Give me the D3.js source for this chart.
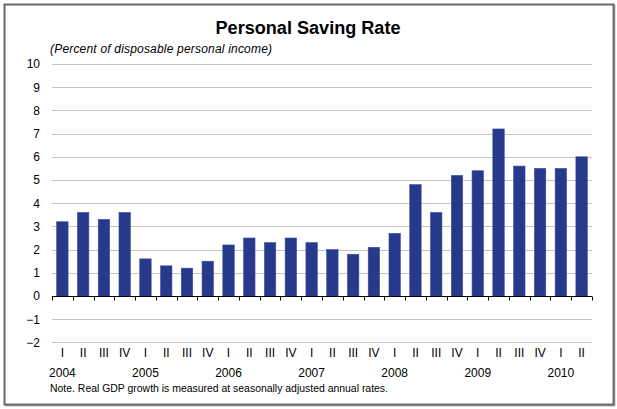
<!DOCTYPE html>
<html lang="en">
<head>
  <meta charset="UTF-8" />
  <title>Personal Saving Rate</title>
  <script src="https://cdn.jsdelivr.net/npm/d3@7"></script>
  <style>
    html, body { margin: 0; padding: 0; background: #fff; overflow: hidden; }
    svg { display: block; font-family: "Liberation Sans", Arial, sans-serif; }
  </style>
</head>
<body>
  <script>
    // Data: quarterly personal saving rate, 2004 Q1 .. 2010 Q2
    const years = ["2004", "2005", "2006", "2007", "2008", "2009", "2010"];
    const quarterNames = ["I", "II", "III", "IV"];
    const values = [
      3.2, 3.6, 3.3, 3.6,   // 2004
      1.6, 1.3, 1.2, 1.5,   // 2005
      2.2, 2.5, 2.3, 2.5,   // 2006
      2.3, 2.0, 1.8, 2.1,   // 2007
      2.7, 4.8, 3.6, 5.2,   // 2008
      5.4, 7.2, 5.6, 5.5,   // 2009
      5.5, 6.0              // 2010
    ];
    const yTicks = [-2, -1, 0, 1, 2, 3, 4, 5, 6, 7, 8, 9, 10];

    const width = 617, height = 409;
    const plot = { left: 52, right: 592, top: 64, bottom: 342.4 };

    const periods = values.map((v, i) => ({
      key: i,
      year: years[Math.floor(i / 4)],
      q: quarterNames[i % 4],
      value: v
    }));

    const svg = d3.select("body").append("svg")
      .attr("width", width)
      .attr("height", height);

    // outer frame
    svg.append("rect")
      .attr("x", 4.5).attr("y", 4.5)
      .attr("width", 609).attr("height", 400)
      .attr("fill", "none")
      .attr("stroke", "#6a6a6a")
      .attr("stroke-width", 2);
    svg.append("line")
      .attr("x1", 614.5).attr("x2", 614.5).attr("y1", 5).attr("y2", 406)
      .attr("stroke", "#808080").attr("stroke-width", 1.5);
    svg.append("line")
      .attr("x1", 5).attr("x2", 615).attr("y1", 405.5).attr("y2", 405.5)
      .attr("stroke", "#808080").attr("stroke-width", 1.5);

    const x = d3.scaleBand()
      .domain(periods.map(d => d.key))
      .range([plot.left, plot.right])
      .paddingInner(0.45)
      .paddingOuter(0.225);

    const y = d3.scaleLinear()
      .domain([-2, 10])
      .range([plot.bottom, plot.top]);

    // gridlines
    svg.append("g")
      .selectAll("line")
      .data(yTicks.filter(t => t !== 0))
      .join("line")
        .attr("x1", plot.left)
        .attr("x2", plot.right)
        .attr("y1", d => Math.round(y(d)) + 0.5)
        .attr("y2", d => Math.round(y(d)) + 0.5)
        .attr("stroke", "#c4c4c4")
        .attr("stroke-width", 1);

    // y labels
    const yAxis = d3.axisLeft(y)
      .tickValues(yTicks)
      .tickSize(0)
      .tickPadding(0)
      .tickFormat(d3.format("d"));
    const yG = svg.append("g")
      .attr("transform", `translate(${plot.left - 12},0)`)
      .call(yAxis);
    yG.select(".domain").remove();
    yG.selectAll("text")
      .attr("font-size", 12)
      .attr("fill", "#000")
      .attr("font-family", "Liberation Sans, Arial, sans-serif");

    // bars
    svg.append("g")
      .selectAll("rect")
      .data(periods)
      .join("rect")
        .attr("x", d => x(d.key))
        .attr("width", x.bandwidth())
        .attr("y", d => y(Math.max(0, d.value)))
        .attr("height", d => Math.abs(y(d.value) - y(0)))
        .attr("fill", "#26398a")
        .attr("stroke", "#3d4f9a")
        .attr("stroke-width", 0.6);

    // zero axis with ticks between quarters
    const y0 = Math.round(y(0)) + 0.5;
    svg.append("line")
      .attr("x1", plot.left).attr("x2", plot.right)
      .attr("y1", y0).attr("y2", y0)
      .attr("stroke", "#000").attr("stroke-width", 1);
    svg.append("g")
      .selectAll("line")
      .data(d3.range(periods.length + 1))
      .join("line")
        .attr("x1", i => Math.round(plot.left + i * x.step()) + 0.5)
        .attr("x2", i => Math.round(plot.left + i * x.step()) + 0.5)
        .attr("y1", y0)
        .attr("y2", y0 + 4)
        .attr("stroke", "#000");

    // quarter labels
    svg.append("g")
      .selectAll("text")
      .data(periods)
      .join("text")
        .attr("x", d => x(d.key) + x.bandwidth() / 2)
        .attr("y", 357)
        .attr("text-anchor", "middle")
        .attr("font-size", 12)
        .text(d => d.q);

    // year labels, under quarter I
    svg.append("g")
      .selectAll("text")
      .data(periods.filter(d => d.q === "I"))
      .join("text")
        .attr("x", d => x(d.key) + x.bandwidth() / 2)
        .attr("y", 377)
        .attr("text-anchor", "middle")
        .attr("font-size", 12)
        .text(d => d.year);

    // title & subtitle
    svg.append("text")
      .attr("x", 308)
      .attr("y", 34)
      .attr("text-anchor", "middle")
      .attr("font-size", 18)
      .attr("font-weight", "bold")
      .attr("textLength", 185)
      .attr("lengthAdjust", "spacingAndGlyphs")
      .text("Personal Saving Rate");

    svg.append("text")
      .attr("x", 50)
      .attr("y", 53)
      .attr("font-size", 12)
      .attr("font-style", "italic")
      .attr("textLength", 222)
      .attr("lengthAdjust", "spacing")
      .text("(Percent of disposable personal  income)");

    svg.append("text")
      .attr("x", 50)
      .attr("y", 392)
      .attr("font-size", 11)
      .attr("textLength", 338)
      .attr("lengthAdjust", "spacingAndGlyphs")
      .text("Note.  Real GDP growth is measured at seasonally adjusted annual rates.");
  </script>
</body>
</html>
